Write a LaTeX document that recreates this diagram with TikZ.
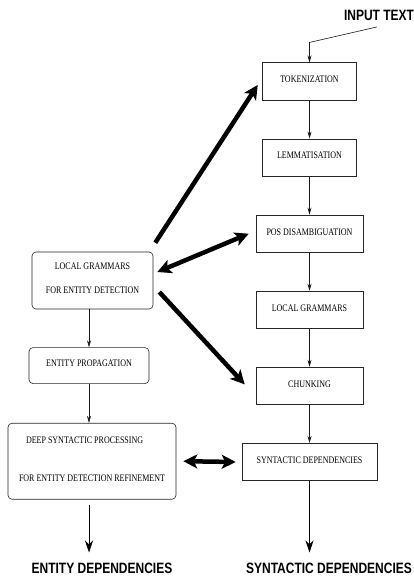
\documentclass[tikz,border=0pt]{standalone}
\usepackage{fontspec}
\newfontfamily\boxfont[FakeStretch=0.8]{Liberation Serif}
\newfontfamily\lblfont[FakeStretch=0.8]{Liberation Sans}
\usetikzlibrary{arrows.meta, positioning}

\begin{document}
\begin{tikzpicture}[
    x=1pt, y=-1pt,
    node distance=38pt,
    font=\boxfont\fontsize{10}{12}\selectfont,
    base/.style={draw=black!85, line width=0.6pt, align=center, inner sep=2pt, text depth=4pt},
    proc/.style={base, rectangle, minimum height=37.5pt},
    grp/.style={base, rectangle, rounded corners=4pt},
    lbl/.style={font=\lblfont\bfseries\fontsize{15}{17}\selectfont, inner sep=0pt},
    arr/.style={-{Stealth[length=7pt, width=4pt]}, line width=0.6pt, draw=black!90},
    outarr/.style={-{Stealth[length=12pt, width=8pt]}, line width=0.7pt},
    fat/.style={-{Stealth[length=14pt, width=14pt, inset=3.5pt]}, line width=4.5pt},
    fatboth/.style={{Stealth[length=14pt, width=14pt, inset=3.5pt]}-{Stealth[length=14pt, width=14pt, inset=3.5pt]}, line width=4.5pt}
]
\useasboundingbox (0,0) rectangle (414,577);

% 1. Main pipeline (right column)
\node[proc, minimum width=94pt] (tok) at (309.5,81.5) {TOKENIZATION};
\node[proc, minimum width=94pt, below=of tok] (lem) {LEMMATISATION};
\node[proc, minimum width=107pt, below=of lem] (posd) {POS DISAMBIGUATION};
\node[proc, minimum width=107pt, below=of posd] (lgr) {LOCAL GRAMMARS};
\node[proc, minimum width=107pt, below=of lgr] (chunk) {CHUNKING};
\node[proc, minimum width=135pt, below=of chunk] (syndep) {SYNTACTIC DEPENDENCIES};

% 2. Entity branch (left column)
\node[grp, minimum width=121pt, minimum height=57pt] (lge) at (92.5,280.5) {LOCAL GRAMMARS\\[12pt]FOR ENTITY DETECTION};
\node[grp, minimum width=120pt, minimum height=36pt, below=38pt of lge, xshift=-3.5pt] (entprop) {ENTITY PROPAGATION};
\node[grp, minimum width=168pt, minimum height=76pt, align=left, below=39pt of entprop, xshift=3pt] (deepsyn) {\hspace*{7pt}DEEP SYNTACTIC PROCESSING\\[26pt]FOR ENTITY DETECTION REFINEMENT};

% 3. Input / outputs
\node[lbl] (input) at (379,15) {INPUT TEXT};
\node[lbl] (entdep) at (102,568) {ENTITY DEPENDENCIES};
\node[lbl] (synout) at (329,568) {SYNTACTIC DEPENDENCIES};

% Connections
\draw[arr] ([xshift=-2pt,yshift=-6.5pt]input.south) -- ([yshift=20pt]tok.north) -- (tok.north);
\draw[arr] (tok) -- (lem);
\draw[arr] (lem) -- (posd);
\draw[arr] (posd) -- (lgr);
\draw[arr] (lgr) -- (chunk);
\draw[arr] (chunk) -- (syndep);

\draw[arr] (lge.south -| entprop.north) -- (entprop.north);
\draw[arr] (entprop.south) -- (entprop.south |- deepsyn.north);

\draw[outarr] (syndep.south) -- ([yshift=10pt]synout.north -| syndep.south);
\draw[outarr] ([yshift=-5pt]deepsyn.south -| entprop.south) -- ([yshift=10pt]entdep.north -| entprop.south);

% Links between the two columns
\draw[fat] ([xshift=2pt,yshift=9pt]lge.north east) -- ([xshift=-4.5pt,yshift=-3.5pt]tok.west);
\draw[fatboth] ([xshift=4pt,yshift=8.5pt]lge.east) -- ([xshift=-7pt]posd.west);
\draw[fat] ([xshift=6pt,yshift=-11.5pt]lge.east) -- ([xshift=-11pt,yshift=1.5pt]chunk.west);
\draw[fatboth] ([xshift=7pt]deepsyn.east) -- ([xshift=-6pt]syndep.west);

\end{tikzpicture}
\end{document}
